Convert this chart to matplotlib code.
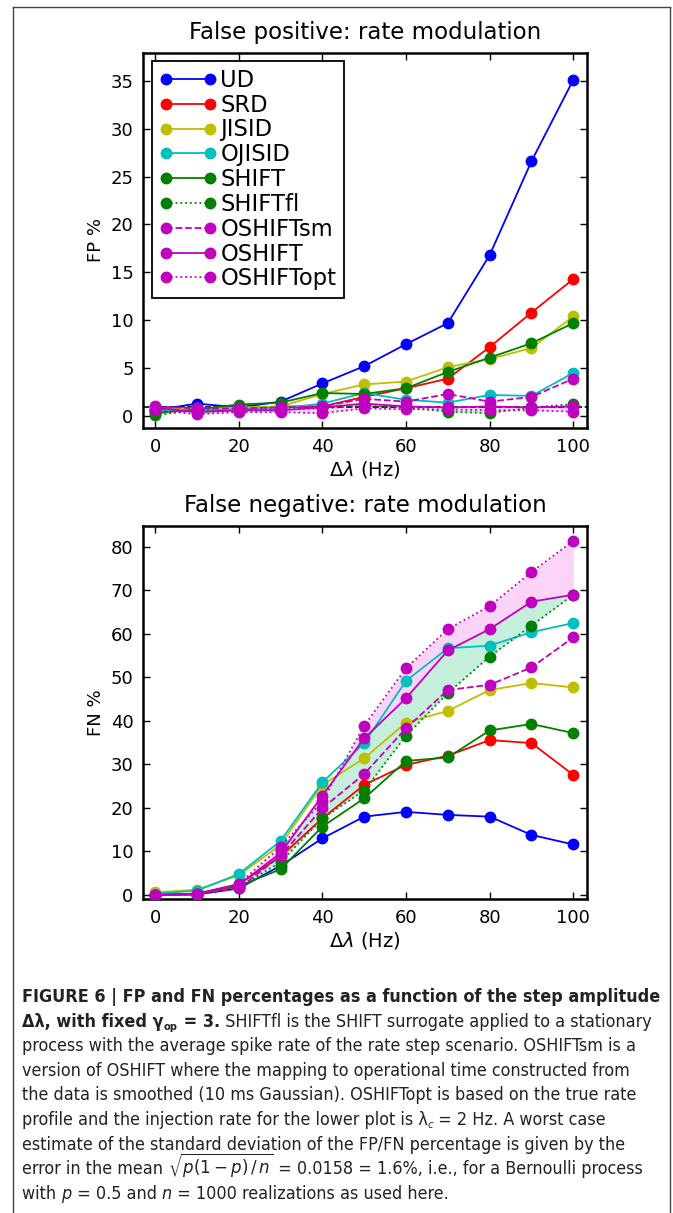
import matplotlib
matplotlib.use("Agg")
import matplotlib.pyplot as plt
from matplotlib.lines import Line2D
from matplotlib import font_manager as fm

# ---------------- data ----------------
x = [0, 10, 20, 30, 40, 50, 60, 70, 80, 90, 100]

labels = ["UD", "SRD", "JISID", "OJISID", "SHIFT", "SHIFTfl", "OSHIFTsm", "OSHIFT", "OSHIFTopt"]

fp_UD = [0.6, 1.3, 0.9, 1.5, 3.4, 5.2, 7.5, 9.7, 16.8, 26.6, 35.1]
fp_SRD = [0.6, 0.5, 0.7, 1.0, 1.0, 2.0, 2.9, 3.9, 7.2, 10.8, 14.3]
fp_JISID = [0.8, 0.8, 0.9, 1.0, 2.3, 3.3, 3.6, 5.1, 5.95, 7.1, 10.4]
fp_OJISID = [0.5, 0.6, 0.7, 0.8, 1.3, 2.4, 1.7, 1.4, 2.2, 2.1, 4.5]
fp_SHIFT = [0.3, 0.7, 1.2, 1.4, 2.4, 2.3, 2.9, 4.6, 6.1, 7.6, 9.7]
fp_SHIFTfl = [0.1, 0.6, 0.5, 0.7, 0.8, 1.1, 0.9, 0.45, 0.3, 0.9, 1.25]
fp_OSHIFTsm = [1.0, 0.8, 0.8, 0.9, 1.0, 1.8, 1.5, 2.3, 1.5, 2.0, 3.9]
fp_OSHIFT = [0.9, 0.4, 0.6, 0.6, 0.9, 1.3, 1.0, 0.9, 1.0, 0.9, 1.0]
fp_OSHIFTopt = [0.6, 0.2, 0.4, 0.4, 0.3, 0.8, 0.7, 0.7, 0.6, 0.6, 0.45]

fn_UD = [0.0, 0.1, 1.5, 6.7, 13.0, 18.0, 19.1, 18.4, 18.0, 13.8, 11.6]
fn_SRD = [0.1, 0.3, 2.5, 8.8, 17.6, 25.3, 29.9, 32.0, 35.6, 34.9, 27.6]
fn_JISID = [0.6, 1.2, 4.5, 11.5, 25.3, 31.4, 39.6, 42.3, 47.1, 48.7, 47.7]
fn_OJISID = [0.3, 1.0, 4.8, 12.4, 25.9, 34.9, 49.2, 56.7, 57.3, 60.4, 62.5]
fn_SHIFT = [0.0, 0.2, 2.0, 5.9, 15.7, 22.2, 30.8, 31.6, 37.8, 39.3, 37.2]
fn_SHIFTfl = [0.0, 0.1, 1.8, 7.5, 17.6, 24.0, 36.6, 46.4, 54.8, 61.9, 69.0]
fn_OSHIFTsm = [0.0, 0.2, 1.5, 9.0, 19.9, 27.8, 38.3, 47.1, 48.3, 52.3, 59.2]
fn_OSHIFT = [0.0, 0.2, 2.3, 9.6, 22.8, 36.0, 45.2, 56.2, 61.1, 67.4, 69.0]
fn_OSHIFTopt = [0.0, 0.3, 2.5, 11.1, 21.5, 38.9, 52.1, 61.1, 66.4, 74.2, 81.4]

fp_level = 0.9

# caption: each line is a list of (text, kind) segments
# kinds: r regular, b bold, i italic, sb bold subscript, si italic subscript, m math
caption = [
    [("FIGURE 6 | FP and FN percentages as a function of the step amplitude", "b")],
    [("\u0394\u03bb, with fixed \u03b3", "b"), ("op", "sb"), (" = 3.", "b"),
     (" SHIFTfl is the SHIFT surrogate applied to a stationary", "r")],
    [("process with the average spike rate of the rate step scenario. OSHIFTsm is a", "r")],
    [("version of OSHIFT where the mapping to operational time constructed from", "r")],
    [("the data is smoothed (10 ms Gaussian). OSHIFTopt is based on the true rate", "r")],
    [("profile and the injection rate for the lower plot is \u03bb", "r"), ("c", "si"),
     (" = 2 Hz. A worst case", "r")],
    [("estimate of the standard deviation of the FP/FN percentage is given by the", "r")],
    [("error in the mean ", "r"), (r"$\sqrt{p(1-p)\,/\,n}$", "m"),
     (" = 0.0158 = 1.6%, i.e., for a Bernoulli process", "r")],
    [("with ", "r"), ("p", "i"), (" = 0.5 and ", "r"), ("n", "i"),
     (" = 1000 realizations as used here.", "r")],
]

# ---------------- style ----------------
plt.rcParams["font.family"] = "DejaVu Sans"
plt.rcParams["mathtext.fontset"] = "dejavusans"

colors = ["b", "r", "y", "c", "g", "g", "m", "m", "m"]
styles = ["-", "-", "-", "-", "-", ":", "--", "-", ":"]

W, H = 673, 1213
fig = plt.figure(figsize=(W / 100, H / 100), dpi=100)
fig.patch.set_facecolor("white")


def fx(px):
    return px / W


def fy(py):
    return 1 - py / H


L, R = 143.3, 586.7
ax1 = fig.add_axes([fx(L), fy(428), fx(R - L), (428 - 53) / H])
ax2 = fig.add_axes([fx(L), fy(899.3), fx(R - L), (899.3 - 526) / H])

fp = [fp_UD, fp_SRD, fp_JISID, fp_OJISID, fp_SHIFT, fp_SHIFTfl, fp_OSHIFTsm, fp_OSHIFT, fp_OSHIFTopt]
fn = [fn_UD, fn_SRD, fn_JISID, fn_OJISID, fn_SHIFT, fn_SHIFTfl, fn_OSHIFTsm, fn_OSHIFT, fn_OSHIFTopt]

green_fill = "#c6eedd"
pink_fill = "#fcd4f7"

for ax, data, ylab, title in [(ax1, fp, "FP %", "False positive: rate modulation"),
                              (ax2, fn, "FN %", "False negative: rate modulation")]:
    ax.fill_between(x, data[5], data[7], color=green_fill, lw=0, zorder=1)
    ax.fill_between(x, data[7], data[8], color=pink_fill, lw=0, zorder=1)
    if ax is ax1:
        ax.axhline(fp_level, color="k", ls="--", lw=1.2, zorder=2.5)
    for d, c, s, lab in zip(data, colors, styles, labels):
        ax.plot(x, d, color=c, ls=s, lw=1.3, marker="o", ms=7.5, mec=c, mfc=c,
                label=lab, zorder=3)
    ax.set_xlim(-2.8, 103.2)
    ax.set_xticks([0, 20, 40, 60, 80, 100])
    ax.tick_params(direction="in", top=True, right=True, length=5, width=1,
                   labelsize=13, pad=7)
    for sp in ax.spines.values():
        sp.set_linewidth(1.8)
    ax.set_ylabel(ylab, fontsize=13, labelpad=4)
    ax.set_xlabel(r"$\Delta\lambda$ (Hz)", fontsize=14, labelpad=2)
    ax.set_title(title, fontsize=16.5, pad=10)

ax1.set_ylim(-1.25, 37.9)
ax1.set_yticks([0, 5, 10, 15, 20, 25, 30, 35])
ax2.set_ylim(-1.0, 84.8)
ax2.set_yticks([0, 10, 20, 30, 40, 50, 60, 70, 80])

leg = ax1.legend(loc="upper left", numpoints=2, fontsize=16.3, handlelength=2.55,
                 labelspacing=0.08, handletextpad=0.15, borderpad=0.33,
                 borderaxespad=0.37, fancybox=False, framealpha=1)
leg.get_frame().set_edgecolor("k")
leg.get_frame().set_linewidth(1.3)

# outer frame
frame_c = "#444444"
fig.add_artist(Line2D([fx(13), fx(13)], [fy(7), -0.01], color=frame_c, lw=1))
fig.add_artist(Line2D([fx(670), fx(670)], [fy(7), -0.01], color=frame_c, lw=1))
fig.add_artist(Line2D([fx(13), fx(670)], [fy(7), fy(7)], color=frame_c, lw=1))


# ---------------- caption ----------------
def find_font(weight="normal", style="normal"):
    cands = [("Liberation Sans Narrow", "normal", "Narrow"),
             ("DejaVu Sans", "condensed", "ondensed"),
             ("Roboto Condensed", "normal", "ondensed"),
             ("Roboto", "normal", None),
             ("Liberation Sans", "normal", None)]
    for fam, st, key in cands:
        try:
            p = fm.findfont(fm.FontProperties(family=fam, stretch=st, weight=weight, style=style),
                            fallback_to_default=False)
        except Exception:
            continue
        if key is not None and key not in p:
            continue
        return p
    return fm.findfont(fm.FontProperties(family="DejaVu Sans", weight=weight, style=style))


paths = {"r": find_font(), "b": find_font(weight="bold"), "i": find_font(style="italic")}
cap_color = "#222222"
renderer = fig.canvas.get_renderer()
MATH_SCALE = 0.93


def fprop(kind, size):
    base = {"r": "r", "b": "b", "i": "i", "sb": "b", "si": "i", "m": "r"}[kind]
    s = size * (0.62 if kind in ("sb", "si") else 1.0)
    return fm.FontProperties(fname=paths[base], size=s)


def seg_width(text, kind, size):
    fpp = fprop(kind, size)
    if kind == "m":
        t = fig.text(0, 0, text, fontsize=size * MATH_SCALE, math_fontfamily="dejavusans")
        w = t.get_window_extent(renderer).width
        t.remove()
        return w
    t1 = fig.text(0, 0, "x" + text + "x", fontproperties=fpp)
    t2 = fig.text(0, 0, "xx", fontproperties=fpp)
    w = t1.get_window_extent(renderer).width - t2.get_window_extent(renderer).width
    t1.remove()
    t2.remove()
    return w


# choose size so the first (bold) line spans the reference width
target_w = 657 - 22
w10 = seg_width(caption[0][0][0], "b", 10)
cap_size = 10 * target_w / w10

x_start = 22
y_first = 1002
dy = 24.6
for i, line in enumerate(caption):
    xp = x_start
    yb = y_first + i * dy
    for text, kind in line:
        w = seg_width(text, kind, cap_size)
        y_off = 3.5 if kind in ("sb", "si") else 0
        if kind == "m":
            fig.text(fx(xp), fy(yb), text, fontsize=cap_size * MATH_SCALE, color=cap_color,
                     va="baseline", math_fontfamily="dejavusans")
        else:
            fig.text(fx(xp), fy(yb + y_off), text, fontproperties=fprop(kind, cap_size),
                     color=cap_color, va="baseline")
        xp += w

fig.savefig("out.png", dpi=100, facecolor="white")
